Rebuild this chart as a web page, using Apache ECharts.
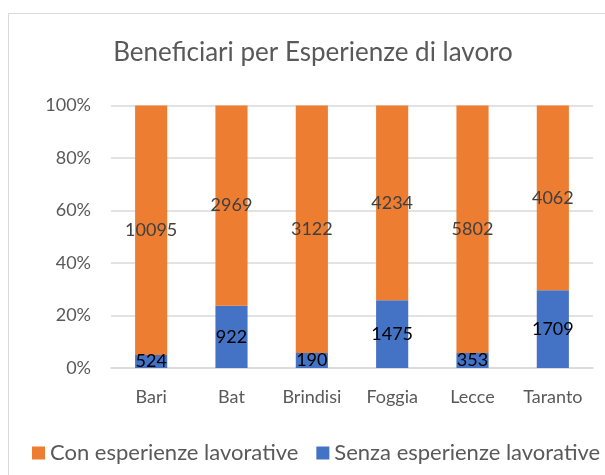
<!DOCTYPE html>
<html>
<head>
<meta charset="utf-8">
<script src="https://cdn.jsdelivr.net/npm/echarts@6/dist/echarts.min.js"></script>
<style>
  html, body { margin: 0; padding: 0; background: #fff; }
  #chart { width: 605px; height: 475px; }
</style>
</head>
<body>
<div id="chart"></div>
<script>
// Provinces and beneficiary counts by work experience
const categories = ['Bari', 'Bat', 'Brindisi', 'Foggia', 'Lecce', 'Taranto'];
const withExperience = [10095, 2969, 3122, 4234, 5802, 4062];
const withoutExperience = [524, 922, 190, 1475, 353, 1709];
const seriesNames = ['Con esperienze lavorative', 'Senza esperienze lavorative'];
const percentTicks = [0, 20, 40, 60, 80, 100];

const FONT = 'Lato, "Open Sans", sans-serif';
const totals = categories.map((_, i) => withExperience[i] + withoutExperience[i]);
// share of each province's total, keeping the raw count for the label
const toShare = (arr) => arr.map((v, i) => ({ value: v / totals[i] * 100, raw: v }));

const chart = echarts.init(document.getElementById('chart'));
chart.setOption({
  backgroundColor: '#ffffff',
  animation: false,
  graphic: [{
    type: 'rect',
    shape: { x: 8.5, y: 13.5, width: 700, height: 600 },
    style: { fill: 'none', stroke: '#d9d9d9', lineWidth: 1 },
    silent: true
  }],
  title: {
    text: 'Beneficiari per Esperienze di lavoro',
    left: 308, top: 35, textAlign: 'center',
    textStyle: { fontFamily: FONT, fontSize: 26, fontWeight: 'normal', color: '#595959' }
  },
  grid: { left: 111, right: 12, top: 105.5, bottom: 107 },
  legend: {
    data: seriesNames,
    bottom: 6, left: 27, width: 700,
    itemWidth: 13, itemHeight: 13, itemGap: 18,
    icon: 'rect',
    textStyle: { fontFamily: FONT, fontSize: 22, color: '#595959' }
  },
  xAxis: {
    type: 'category',
    data: categories,
    axisLine: { lineStyle: { color: '#d9d9d9', width: 1.5 } },
    axisTick: { show: false },
    axisLabel: { interval: 0, fontFamily: FONT, fontSize: 18, color: '#595959', margin: 20 }
  },
  yAxis: {
    type: 'value',
    min: percentTicks[0], max: percentTicks[percentTicks.length - 1], interval: 20,
    axisLine: { show: false },
    axisTick: { show: false },
    splitLine: { lineStyle: { color: '#d9d9d9', width: 1.5 } },
    axisLabel: { fontFamily: FONT, fontSize: 18, color: '#595959', margin: 20, formatter: '{value}%' }
  },
  series: [
    {
      name: seriesNames[1], type: 'bar', stack: 'total', barWidth: '40%',
      itemStyle: { color: '#4472C4' },
      data: toShare(withoutExperience),
      label: {
        show: true, position: 'inside',
        fontFamily: FONT, fontSize: 18, color: '#000000',
        formatter: (p) => p.data.raw
      }
    },
    {
      name: seriesNames[0], type: 'bar', stack: 'total', barWidth: '40%',
      itemStyle: { color: '#ED7D31' },
      data: toShare(withExperience),
      label: {
        show: true, position: 'inside',
        fontFamily: FONT, fontSize: 18, color: '#404040',
        formatter: (p) => p.data.raw
      }
    }
  ]
});
</script>
</body>
</html>
